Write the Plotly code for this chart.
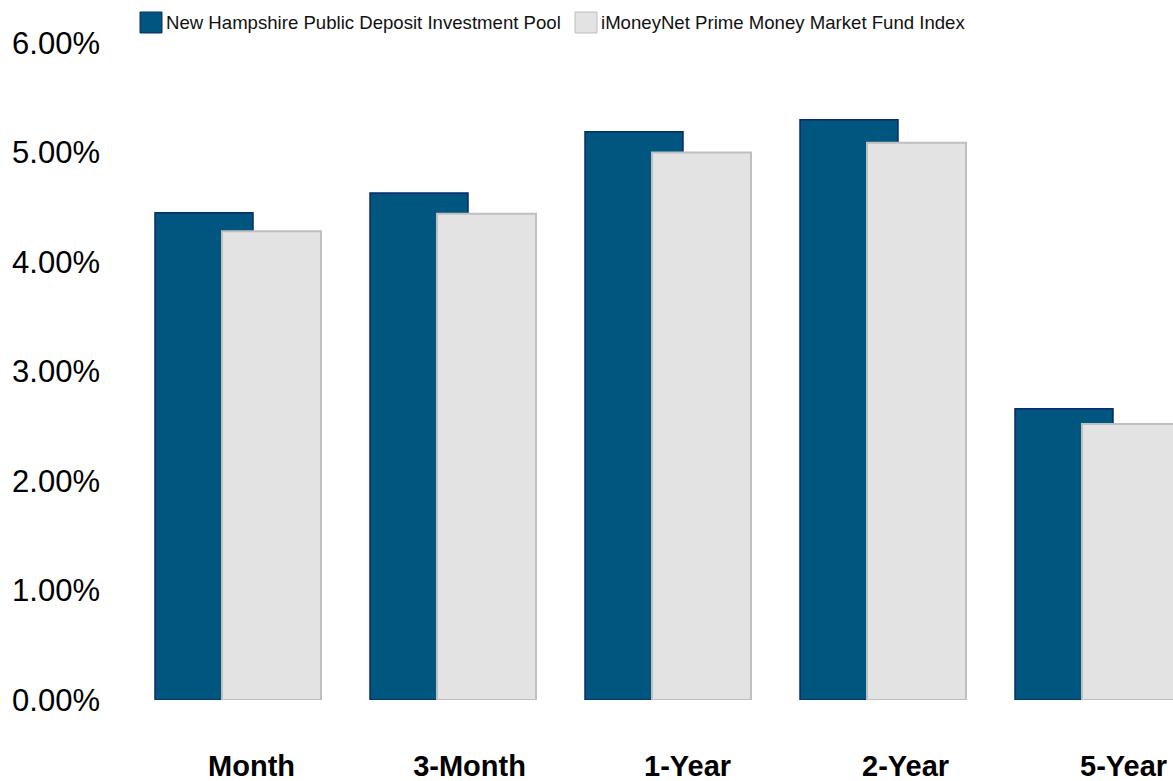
import plotly.graph_objects as go

categories = ["Month", "3-Month", "1-Year", "2-Year", "5-Year"]
nh_pool = [4.45, 4.63, 5.19, 5.30, 2.66]
imoneynet = [4.28, 4.44, 5.00, 5.09, 2.52]
series_names = ["New Hampshire Public Deposit Investment Pool",
                "iMoneyNet Prime Money Market Fund Index"]
y_ticks = [0, 1, 2, 3, 4, 5, 6]

W, H = 1173, 781
L, R, T, B = 105, 0, 43, 81
PX_PER_CAT = 215.0
CENTER0 = 238.0
x_min = (L - CENTER0) / PX_PER_CAT
x_max = (W - R - CENTER0) / PX_PER_CAT

BLUE = "#00567f"
BLUE_LINE = "#0b2a6a"
GREY = "#e3e3e3"
GREY_LINE = "#bfbfbf"
FONT = "Liberation Sans, Arial, sans-serif"

xs = list(range(len(categories)))

fig = go.Figure()
fig.add_trace(go.Bar(
    x=xs, y=nh_pool, name=series_names[0],
    offset=-83 / PX_PER_CAT, width=98 / PX_PER_CAT,
    marker=dict(color=BLUE, line=dict(color=BLUE_LINE, width=1.5)),
    showlegend=False, cliponaxis=True,
))
fig.add_trace(go.Bar(
    x=xs, y=imoneynet, name=series_names[1],
    offset=-16 / PX_PER_CAT, width=99 / PX_PER_CAT,
    marker=dict(color=GREY, line=dict(color=GREY_LINE, width=2)),
    showlegend=False, cliponaxis=True,
))

# label positions (slightly right of bar groups, as in the reference)
label_pos = [i * 1.014 + 0.063 for i in xs]

def px_to_paper_x(px):
    return (px - L) / (W - L - R)

def px_to_paper_y(py):
    return (H - B - py) / (H - T - B)

shapes = []
annotations = []
legend_items = [(140, series_names[0], BLUE, BLUE_LINE), (575, series_names[1], GREY, GREY_LINE)]
for x0, name, fc, lc in legend_items:
    shapes.append(dict(type="rect", xref="paper", yref="paper",
                       x0=px_to_paper_x(x0), x1=px_to_paper_x(x0 + 22),
                       y0=px_to_paper_y(33), y1=px_to_paper_y(12),
                       fillcolor=fc, line=dict(color=lc, width=1)))
    annotations.append(dict(xref="paper", yref="paper", x=px_to_paper_x(x0 + 24),
                            y=px_to_paper_y(22.5), text=name, showarrow=False,
                            xanchor="left", yanchor="middle",
                            font=dict(family=FONT, size=18.6, color="#111111")))

fig.update_layout(
    width=W, height=H,
    margin=dict(l=L, r=R, t=T, b=B, pad=0),
    paper_bgcolor="white", plot_bgcolor="white",
    barmode="overlay",
    shapes=shapes, annotations=annotations,
    xaxis=dict(range=[x_min, x_max], tickmode="array", tickvals=label_pos,
               ticktext=categories, showgrid=False, zeroline=False, showline=False,
               ticks="", ticklabelstandoff=46,
               tickfont=dict(family=FONT, size=29, color="#000000", weight="bold")),
    yaxis=dict(range=[0, 6], tickmode="array", tickvals=y_ticks,
               ticktext=[f"{v:.2f}%" for v in y_ticks],
               showgrid=False, zeroline=False, showline=False, ticks="",
               ticklabelstandoff=4,
               tickfont=dict(family=FONT, size=31, color="#000000")),
)

fig.write_html("out.html", config={"displayModeBar": False},
               post_script="document.body.style.margin='0';document.body.style.overflow='hidden';")
